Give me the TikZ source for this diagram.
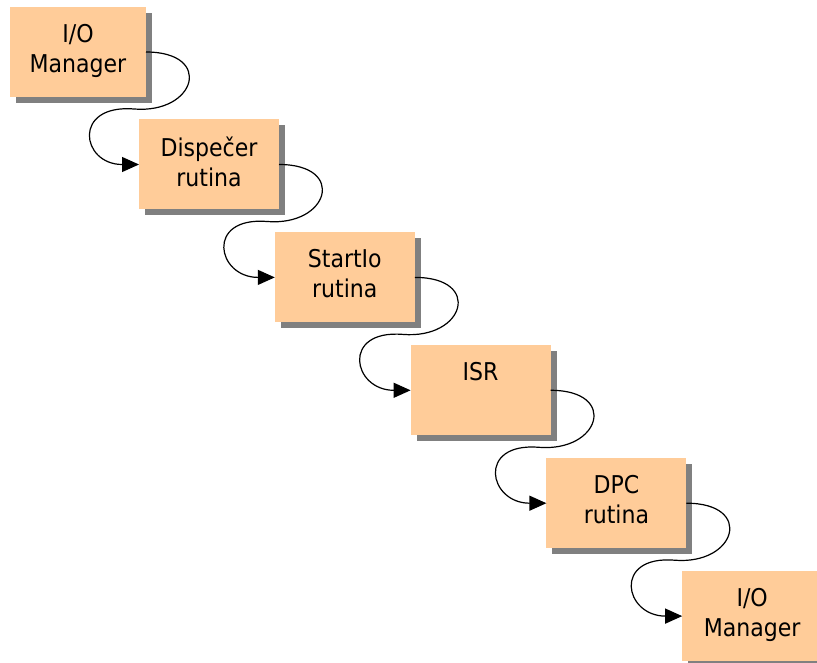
\documentclass[tikz,border=0pt]{standalone}
\usepackage{fontspec}
\setmainfont{DejaVu Sans Condensed}
\usetikzlibrary{arrows.meta,calc,shadows}

\definecolor{boxfill}{HTML}{FFCC99}
\definecolor{boxshade}{HTML}{808080}

\tikzset{
  stagebox/.style={rectangle, fill=boxfill, inner sep=0pt, outer sep=0pt,
    minimum width=140pt, minimum height=90pt,
    drop shadow={shadow xshift=6pt, shadow yshift=-6pt, fill=boxshade, opacity=1}},
  flow/.style={line width=1.2pt, -{Triangle[length=17pt,width=15pt]}},
}

% text block pinned to the top of each box
\newcommand{\boxtext}[2][140pt]{%
  \parbox[c][90pt][t]{#1}{\centering\fontsize{24.5}{30}\selectfont\vspace*{17pt}#2}}

\begin{document}
\begin{tikzpicture}[x=1pt, y=-1pt]
\useasboundingbox (0,0) rectangle (817,663);

\node[stagebox, minimum width=136pt] (b1) at (78,52) {\boxtext[136pt]{I/O\\Manager}};
\node[stagebox] (b2) at (209,164.5) {\boxtext{Dispečer\\rutina}};
\node[stagebox] (b3) at (344.8,277.4) {\boxtext{StartIo\\rutina}};
\node[stagebox] (b4) at (480.6,390.3) {\boxtext{ISR}};
\node[stagebox] (b5) at (616.4,503.2) {\boxtext{DPC\\rutina}};
\node[stagebox] (b6) at (752.2,616.1) {\boxtext{I/O\\Manager}};

% S-shaped hand-over from each stage to the next
\foreach \a/\b in {1/2,2/3,3/4,4/5,5/6}{
  \coordinate (m\a) at ($(b\a.east)+(-12,57)$);
  \draw[flow] (b\a.east) .. controls +(68,0) and +(62,5) .. (m\a)
                         .. controls +(-62,-5) and +(-58,0) .. (b\b.west);
}
\end{tikzpicture}
\end{document}
